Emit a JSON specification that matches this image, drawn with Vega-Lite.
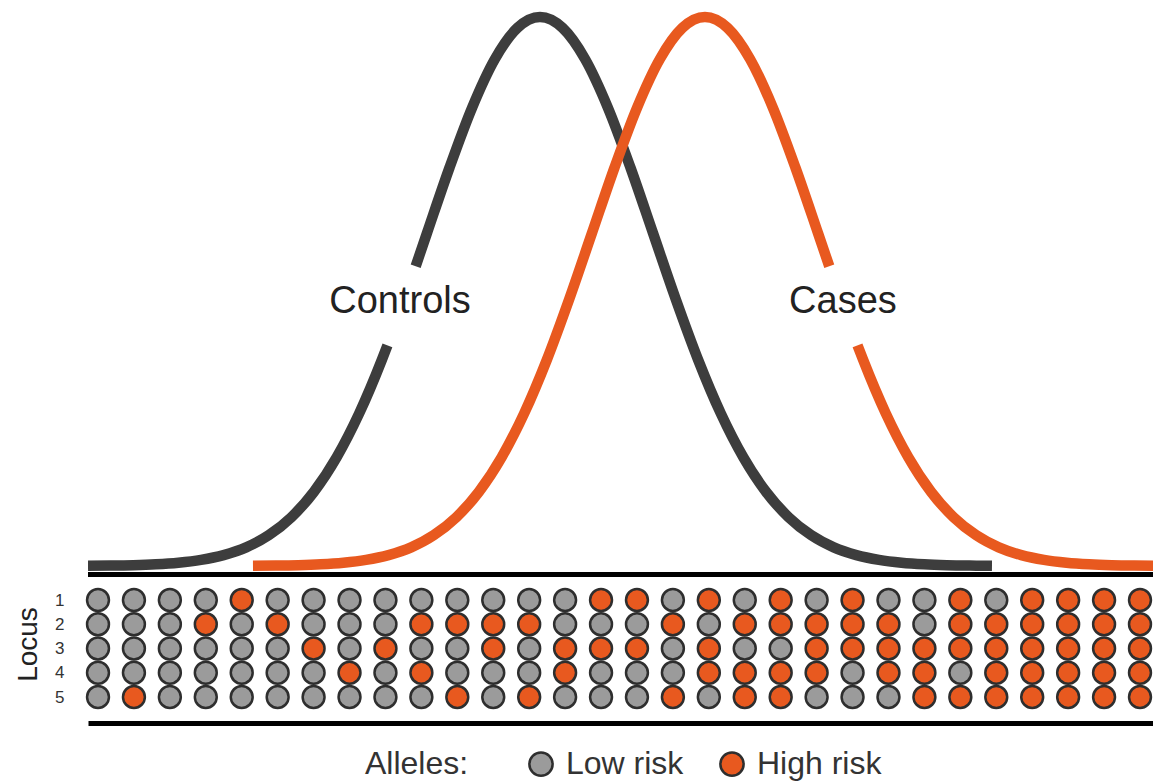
{
  "$schema": "https://vega.github.io/schema/vega-lite/v6.json",
  "width": 1065,
  "height": 723,
  "autosize": {"type": "none"},
  "padding": {"left": 88, "top": 0, "right": 0, "bottom": 61},
  "background": "white",
  "config": {"view": {"stroke": null}, "font": "Liberation Sans"},
  "resolve": {"scale": {"x": "independent", "y": "independent"}},
  "layer": [
    {
      "layer": [
        {
          "data": {"values": [
            {"g":"Controls","s":1,"x":-4.0,"y":0.0003},{"g":"Controls","s":1,"x":-3.8,"y":0.0007},{"g":"Controls","s":1,"x":-3.6,"y":0.0015},{"g":"Controls","s":1,"x":-3.4,"y":0.0031},{"g":"Controls","s":1,"x":-3.2,"y":0.006},{"g":"Controls","s":1,"x":-3.0,"y":0.0111},{"g":"Controls","s":1,"x":-2.8,"y":0.0198},{"g":"Controls","s":1,"x":-2.6,"y":0.034},{"g":"Controls","s":1,"x":-2.4,"y":0.0561},{"g":"Controls","s":1,"x":-2.2,"y":0.0889},{"g":"Controls","s":1,"x":-2.0,"y":0.1353},{"g":"Controls","s":1,"x":-1.8,"y":0.1979},{"g":"Controls","s":1,"x":-1.6,"y":0.278},{"g":"Controls","s":1,"x":-1.4,"y":0.3753},{"g":"Controls","s":1,"x":-1.35,"y":0.402},
            {"g":"Controls","s":2,"x":-1.1,"y":0.5461},{"g":"Controls","s":2,"x":-1.0,"y":0.6065},{"g":"Controls","s":2,"x":-0.8,"y":0.7261},{"g":"Controls","s":2,"x":-0.6,"y":0.8353},{"g":"Controls","s":2,"x":-0.4,"y":0.9231},{"g":"Controls","s":2,"x":-0.2,"y":0.9802},{"g":"Controls","s":2,"x":0.0,"y":1.0},{"g":"Controls","s":2,"x":0.2,"y":0.9802},{"g":"Controls","s":2,"x":0.4,"y":0.9231},{"g":"Controls","s":2,"x":0.6,"y":0.8353},{"g":"Controls","s":2,"x":0.8,"y":0.7261},{"g":"Controls","s":2,"x":1.0,"y":0.6065},{"g":"Controls","s":2,"x":1.2,"y":0.4868},{"g":"Controls","s":2,"x":1.4,"y":0.3753},{"g":"Controls","s":2,"x":1.6,"y":0.278},{"g":"Controls","s":2,"x":1.8,"y":0.1979},{"g":"Controls","s":2,"x":2.0,"y":0.1353},{"g":"Controls","s":2,"x":2.2,"y":0.0889},{"g":"Controls","s":2,"x":2.4,"y":0.0561},{"g":"Controls","s":2,"x":2.6,"y":0.034},{"g":"Controls","s":2,"x":2.8,"y":0.0198},{"g":"Controls","s":2,"x":3.0,"y":0.0111},{"g":"Controls","s":2,"x":3.2,"y":0.006},{"g":"Controls","s":2,"x":3.4,"y":0.0031},{"g":"Controls","s":2,"x":3.6,"y":0.0015},{"g":"Controls","s":2,"x":3.8,"y":0.0007},{"g":"Controls","s":2,"x":4.0,"y":0.0003},
            {"g":"Cases","s":1,"x":-2.54,"y":0.0003},{"g":"Cases","s":1,"x":-2.34,"y":0.0007},{"g":"Cases","s":1,"x":-2.14,"y":0.0015},{"g":"Cases","s":1,"x":-1.94,"y":0.0031},{"g":"Cases","s":1,"x":-1.74,"y":0.006},{"g":"Cases","s":1,"x":-1.54,"y":0.0111},{"g":"Cases","s":1,"x":-1.34,"y":0.0198},{"g":"Cases","s":1,"x":-1.14,"y":0.034},{"g":"Cases","s":1,"x":-0.94,"y":0.0561},{"g":"Cases","s":1,"x":-0.74,"y":0.0889},{"g":"Cases","s":1,"x":-0.54,"y":0.1353},{"g":"Cases","s":1,"x":-0.34,"y":0.1979},{"g":"Cases","s":1,"x":-0.14,"y":0.278},{"g":"Cases","s":1,"x":0.06,"y":0.3753},{"g":"Cases","s":1,"x":0.26,"y":0.4868},{"g":"Cases","s":1,"x":0.46,"y":0.6065},{"g":"Cases","s":1,"x":0.66,"y":0.7261},{"g":"Cases","s":1,"x":0.86,"y":0.8353},{"g":"Cases","s":1,"x":1.06,"y":0.9231},{"g":"Cases","s":1,"x":1.26,"y":0.9802},{"g":"Cases","s":1,"x":1.46,"y":1.0},{"g":"Cases","s":1,"x":1.66,"y":0.9802},{"g":"Cases","s":1,"x":1.86,"y":0.9231},{"g":"Cases","s":1,"x":2.06,"y":0.8353},{"g":"Cases","s":1,"x":2.26,"y":0.7261},{"g":"Cases","s":1,"x":2.46,"y":0.6065},{"g":"Cases","s":1,"x":2.56,"y":0.5461},
            {"g":"Cases","s":2,"x":2.81,"y":0.402},{"g":"Cases","s":2,"x":2.86,"y":0.3753},{"g":"Cases","s":2,"x":3.06,"y":0.278},{"g":"Cases","s":2,"x":3.26,"y":0.1979},{"g":"Cases","s":2,"x":3.46,"y":0.1353},{"g":"Cases","s":2,"x":3.66,"y":0.0889},{"g":"Cases","s":2,"x":3.86,"y":0.0561},{"g":"Cases","s":2,"x":4.06,"y":0.034},{"g":"Cases","s":2,"x":4.26,"y":0.0198},{"g":"Cases","s":2,"x":4.46,"y":0.0111},{"g":"Cases","s":2,"x":4.66,"y":0.006},{"g":"Cases","s":2,"x":4.86,"y":0.0031},{"g":"Cases","s":2,"x":5.06,"y":0.0015},{"g":"Cases","s":2,"x":5.26,"y":0.0007},{"g":"Cases","s":2,"x":5.46,"y":0.0003}
          ]},
          "mark": {"type": "line", "strokeWidth": 10.5, "strokeCap": "butt", "interpolate": "monotone", "clip": true},
          "encoding": {
            "x": {"field": "x", "type": "quantitative", "scale": {"domain": [-4, 5.425], "nice": false, "zero": false}, "axis": null},
            "y": {"field": "y", "type": "quantitative", "scale": {"domain": [-0.286, 1.031], "nice": false, "zero": false}, "axis": null},
            "detail": {"field": "s"},
            "color": {"field": "g", "type": "nominal", "scale": {"domain": ["Controls", "Cases"], "range": ["#3d3d3d", "#e8591f"]}, "legend": null}
          }
        },
        {
          "data": {"values": [{"baseline": 0}]},
          "mark": {"type": "rule", "strokeWidth": 5, "color": "#000000", "yOffset": 8.5},
          "encoding": {"y": {"field": "baseline", "type": "quantitative"}}
        },
        {
          "data": {"values": [
            {"label": "Controls", "x": -1.239, "y": 0.481},
            {"label": "Cases", "x": 2.681, "y": 0.481}
          ]},
          "mark": {"type": "text", "fontSize": 38, "align": "center", "baseline": "middle", "color": "#222222"},
          "encoding": {
            "x": {"field": "x", "type": "quantitative"},
            "y": {"field": "y", "type": "quantitative"},
            "text": {"field": "label"}
          }
        }
      ]
    },
    {
      "data": {"values": [
        {"c":1,"l":1,"a":"Low risk"},{"c":1,"l":2,"a":"Low risk"},{"c":1,"l":3,"a":"Low risk"},{"c":1,"l":4,"a":"Low risk"},{"c":1,"l":5,"a":"Low risk"},
        {"c":2,"l":1,"a":"Low risk"},{"c":2,"l":2,"a":"Low risk"},{"c":2,"l":3,"a":"Low risk"},{"c":2,"l":4,"a":"Low risk"},{"c":2,"l":5,"a":"High risk"},
        {"c":3,"l":1,"a":"Low risk"},{"c":3,"l":2,"a":"Low risk"},{"c":3,"l":3,"a":"Low risk"},{"c":3,"l":4,"a":"Low risk"},{"c":3,"l":5,"a":"Low risk"},
        {"c":4,"l":1,"a":"Low risk"},{"c":4,"l":2,"a":"High risk"},{"c":4,"l":3,"a":"Low risk"},{"c":4,"l":4,"a":"Low risk"},{"c":4,"l":5,"a":"Low risk"},
        {"c":5,"l":1,"a":"High risk"},{"c":5,"l":2,"a":"Low risk"},{"c":5,"l":3,"a":"Low risk"},{"c":5,"l":4,"a":"Low risk"},{"c":5,"l":5,"a":"Low risk"},
        {"c":6,"l":1,"a":"Low risk"},{"c":6,"l":2,"a":"High risk"},{"c":6,"l":3,"a":"Low risk"},{"c":6,"l":4,"a":"Low risk"},{"c":6,"l":5,"a":"Low risk"},
        {"c":7,"l":1,"a":"Low risk"},{"c":7,"l":2,"a":"Low risk"},{"c":7,"l":3,"a":"High risk"},{"c":7,"l":4,"a":"Low risk"},{"c":7,"l":5,"a":"Low risk"},
        {"c":8,"l":1,"a":"Low risk"},{"c":8,"l":2,"a":"Low risk"},{"c":8,"l":3,"a":"Low risk"},{"c":8,"l":4,"a":"High risk"},{"c":8,"l":5,"a":"Low risk"},
        {"c":9,"l":1,"a":"Low risk"},{"c":9,"l":2,"a":"Low risk"},{"c":9,"l":3,"a":"High risk"},{"c":9,"l":4,"a":"Low risk"},{"c":9,"l":5,"a":"Low risk"},
        {"c":10,"l":1,"a":"Low risk"},{"c":10,"l":2,"a":"High risk"},{"c":10,"l":3,"a":"Low risk"},{"c":10,"l":4,"a":"High risk"},{"c":10,"l":5,"a":"Low risk"},
        {"c":11,"l":1,"a":"Low risk"},{"c":11,"l":2,"a":"High risk"},{"c":11,"l":3,"a":"Low risk"},{"c":11,"l":4,"a":"Low risk"},{"c":11,"l":5,"a":"High risk"},
        {"c":12,"l":1,"a":"Low risk"},{"c":12,"l":2,"a":"High risk"},{"c":12,"l":3,"a":"High risk"},{"c":12,"l":4,"a":"Low risk"},{"c":12,"l":5,"a":"Low risk"},
        {"c":13,"l":1,"a":"Low risk"},{"c":13,"l":2,"a":"High risk"},{"c":13,"l":3,"a":"Low risk"},{"c":13,"l":4,"a":"Low risk"},{"c":13,"l":5,"a":"High risk"},
        {"c":14,"l":1,"a":"Low risk"},{"c":14,"l":2,"a":"Low risk"},{"c":14,"l":3,"a":"High risk"},{"c":14,"l":4,"a":"High risk"},{"c":14,"l":5,"a":"Low risk"},
        {"c":15,"l":1,"a":"High risk"},{"c":15,"l":2,"a":"Low risk"},{"c":15,"l":3,"a":"High risk"},{"c":15,"l":4,"a":"Low risk"},{"c":15,"l":5,"a":"Low risk"},
        {"c":16,"l":1,"a":"High risk"},{"c":16,"l":2,"a":"Low risk"},{"c":16,"l":3,"a":"High risk"},{"c":16,"l":4,"a":"Low risk"},{"c":16,"l":5,"a":"Low risk"},
        {"c":17,"l":1,"a":"Low risk"},{"c":17,"l":2,"a":"High risk"},{"c":17,"l":3,"a":"Low risk"},{"c":17,"l":4,"a":"Low risk"},{"c":17,"l":5,"a":"High risk"},
        {"c":18,"l":1,"a":"High risk"},{"c":18,"l":2,"a":"Low risk"},{"c":18,"l":3,"a":"High risk"},{"c":18,"l":4,"a":"High risk"},{"c":18,"l":5,"a":"Low risk"},
        {"c":19,"l":1,"a":"Low risk"},{"c":19,"l":2,"a":"High risk"},{"c":19,"l":3,"a":"Low risk"},{"c":19,"l":4,"a":"High risk"},{"c":19,"l":5,"a":"High risk"},
        {"c":20,"l":1,"a":"High risk"},{"c":20,"l":2,"a":"High risk"},{"c":20,"l":3,"a":"Low risk"},{"c":20,"l":4,"a":"High risk"},{"c":20,"l":5,"a":"High risk"},
        {"c":21,"l":1,"a":"Low risk"},{"c":21,"l":2,"a":"High risk"},{"c":21,"l":3,"a":"High risk"},{"c":21,"l":4,"a":"High risk"},{"c":21,"l":5,"a":"Low risk"},
        {"c":22,"l":1,"a":"High risk"},{"c":22,"l":2,"a":"High risk"},{"c":22,"l":3,"a":"High risk"},{"c":22,"l":4,"a":"Low risk"},{"c":22,"l":5,"a":"Low risk"},
        {"c":23,"l":1,"a":"Low risk"},{"c":23,"l":2,"a":"High risk"},{"c":23,"l":3,"a":"High risk"},{"c":23,"l":4,"a":"High risk"},{"c":23,"l":5,"a":"Low risk"},
        {"c":24,"l":1,"a":"Low risk"},{"c":24,"l":2,"a":"Low risk"},{"c":24,"l":3,"a":"High risk"},{"c":24,"l":4,"a":"High risk"},{"c":24,"l":5,"a":"High risk"},
        {"c":25,"l":1,"a":"High risk"},{"c":25,"l":2,"a":"High risk"},{"c":25,"l":3,"a":"High risk"},{"c":25,"l":4,"a":"Low risk"},{"c":25,"l":5,"a":"High risk"},
        {"c":26,"l":1,"a":"Low risk"},{"c":26,"l":2,"a":"High risk"},{"c":26,"l":3,"a":"High risk"},{"c":26,"l":4,"a":"High risk"},{"c":26,"l":5,"a":"High risk"},
        {"c":27,"l":1,"a":"High risk"},{"c":27,"l":2,"a":"High risk"},{"c":27,"l":3,"a":"High risk"},{"c":27,"l":4,"a":"High risk"},{"c":27,"l":5,"a":"High risk"},
        {"c":28,"l":1,"a":"High risk"},{"c":28,"l":2,"a":"High risk"},{"c":28,"l":3,"a":"High risk"},{"c":28,"l":4,"a":"High risk"},{"c":28,"l":5,"a":"High risk"},
        {"c":29,"l":1,"a":"High risk"},{"c":29,"l":2,"a":"High risk"},{"c":29,"l":3,"a":"High risk"},{"c":29,"l":4,"a":"High risk"},{"c":29,"l":5,"a":"High risk"},
        {"c":30,"l":1,"a":"High risk"},{"c":30,"l":2,"a":"High risk"},{"c":30,"l":3,"a":"High risk"},{"c":30,"l":4,"a":"High risk"},{"c":30,"l":5,"a":"High risk"}
      ]},
      "mark": {"type": "point", "shape": "circle", "filled": true, "size": 480, "stroke": "#2e2e2e", "strokeWidth": 2.5, "opacity": 1},
      "encoding": {
        "x": {"field": "c", "type": "quantitative", "scale": {"domain": [0.7217, 30.362], "nice": false, "zero": false},
          "axis": {"orient": "bottom", "domain": true, "domainWidth": 5, "domainColor": "#000000", "domainCap": "butt", "ticks": false, "labels": false, "grid": false, "title": null}},
        "y": {"field": "l", "type": "quantitative", "scale": {"domain": [-23.742, 6.072], "nice": false, "zero": false, "reverse": true},
          "axis": {"orient": "left", "values": [1, 2, 3, 4, 5], "domain": false, "ticks": false, "grid": false, "labelFontSize": 17, "labelColor": "#333333", "labelPadding": 24, "labelFont": "Liberation Sans",
            "title": "Locus", "titleFontSize": 28, "titleFontWeight": "normal", "titleColor": "#222222", "titleFont": "Liberation Sans", "titleX": -60, "titleY": 644, "titleAngle": -90, "titleAlign": "center", "titleBaseline": "middle"}},
        "fill": {"field": "a", "type": "nominal", "scale": {"domain": ["Low risk", "High risk"], "range": ["#9b9b9b", "#e8591f"]},
          "legend": {"orient": "none", "legendX": 277, "legendY": 748, "direction": "horizontal", "title": "Alleles:", "titleOrient": "left", "titleFontSize": 32, "titleFontWeight": "normal", "titleColor": "#333333", "titleFont": "Liberation Sans", "titlePadding": 56, "titleBaseline": "middle",
            "labelFontSize": 32, "labelFont": "Liberation Sans", "labelColor": "#333333", "labelOffset": 9, "columnPadding": 31, "symbolSize": 540, "symbolStrokeWidth": 2.5, "symbolStrokeColor": "#2e2e2e", "symbolType": "circle", "symbolOpacity": 1}}
      }
    }
  ]
}
